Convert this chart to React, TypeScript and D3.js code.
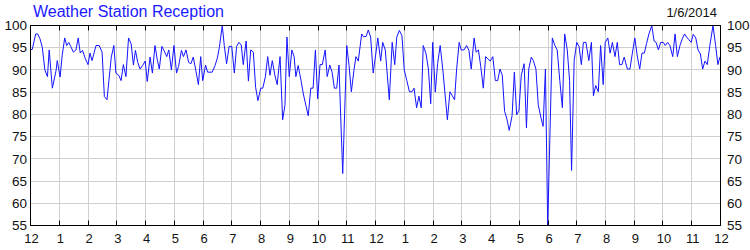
import React from "react";
import * as d3 from "d3";

const title = "Weather Station Reception";
const dateLabel = "1/6/2014";
const monthLabels = ["12","1","2","3","4","5","6","7","8","9","10","11","12","1","2","3","4","5","6","7","8","9","10","11","12"];
const yTicks = [55, 60, 65, 70, 75, 80, 85, 90, 95, 100];

// position in months from the first tick (Dec) and reception %
const monthPos = [
  0.0, 0.06, 0.18, 0.25, 0.33, 0.41, 0.50, 0.59, 0.65, 0.76, 0.89, 0.93, 1.03, 1.10, 1.19, 1.26, 1.33, 1.40, 1.49, 1.58,
  1.66, 1.73, 1.81, 1.91, 2.0, 2.07, 2.14, 2.28, 2.39, 2.49, 2.57, 2.66, 2.81, 2.90, 2.97, 3.07, 3.15, 3.23, 3.32, 3.41,
  3.50, 3.58, 3.65, 3.73, 3.81, 3.90, 3.99, 4.06, 4.16, 4.24, 4.33, 4.41, 4.48, 4.57, 4.64, 4.74, 4.81, 4.90, 4.99, 5.08,
  5.15, 5.25, 5.32, 5.41, 5.50,
  5.58, 5.66, 5.75, 5.84, 5.92, 5.99, 6.09, 6.16, 6.32, 6.42, 6.50, 6.57, 6.67, 6.74, 6.82, 6.91, 7.00, 7.09, 7.17, 7.25,
  7.33, 7.40, 7.50, 7.58, 7.66, 7.75, 7.83, 7.91, 8.01, 8.08, 8.17, 8.25, 8.33, 8.41, 8.50, 8.58, 8.68, 8.77, 8.85, 8.92,
  9.00, 9.09, 9.17, 9.23, 9.31, 9.41, 9.49, 9.58, 9.66, 9.75, 9.83, 9.91, 9.99, 10.07, 10.15, 10.25, 10.32, 10.41, 10.49, 10.57,
  10.65, 10.73, 10.79, 10.86, 11.00, 11.08, 11.16, 11.25, 11.32, 11.40,
  11.52, 11.58, 11.67, 11.75, 11.83, 11.92, 12.01, 12.08, 12.18, 12.25, 12.34, 12.48, 12.58, 12.67, 12.74, 12.83, 12.92, 13.00, 13.09, 13.18,
  13.27, 13.34, 13.43, 13.51, 13.59, 13.66, 13.76, 13.84, 13.92, 13.99, 14.08, 14.16, 14.25, 14.35, 14.50, 14.59, 14.67, 14.75, 14.82, 14.91,
  14.98, 15.08, 15.17, 15.25, 15.33, 15.43, 15.50, 15.58, 15.66, 15.75, 15.83, 15.91, 15.99, 16.08, 16.17, 16.25, 16.33, 16.41, 16.49, 16.57,
  16.65, 16.75, 16.83, 16.91, 16.99, 17.07, 17.17, 17.25, 17.33, 17.42, 17.49, 17.58, 17.66, 17.75, 17.83, 17.91, 17.99,
  18.15, 18.24, 18.32, 18.41, 18.50, 18.58, 18.67, 18.75, 18.82, 18.91, 19.00, 19.08, 19.16, 19.23, 19.32, 19.42, 19.51, 19.58, 19.66, 19.75,
  19.83, 19.92, 19.99, 20.08, 20.16, 20.24, 20.33, 20.41, 20.49, 20.57, 20.65, 20.76, 20.85, 20.93, 21.02, 21.11, 21.19, 21.27, 21.35, 21.43,
  21.51, 21.61, 21.69, 21.76, 21.84, 21.92, 22.01, 22.08, 22.16, 22.24, 22.34, 22.42, 22.50, 22.59, 22.67, 22.75, 22.82, 22.90, 22.98, 23.05,
  23.14, 23.22, 23.30, 23.38, 23.46, 23.54, 23.63, 23.74, 23.83, 23.91, 23.98,
];
const reception = [
  94.6, 94.6, 98.1, 98.1, 97, 95.1, 90, 88.5, 94.5, 85.9, 89.9, 92.1, 88.4, 93.2, 97.2, 95.5, 96.2, 95.3, 94, 94.5,
  97.2, 93.8, 94.4, 92.5, 91.2, 93.8, 92.1, 95.5, 95.5, 94, 84, 83.3, 92.9, 95.5, 89.3, 88.8, 87.6, 91.2, 88.5, 97.2,
  95.9, 91.1, 94.4, 91.7, 90.2, 91, 92, 87.4, 92.9, 89.3, 95.5, 92.3, 90.2, 95.3, 94.4, 93, 94.5, 90, 95.5, 89.3,
  90.8, 94.4, 93, 94.5, 91.7,
  91.4, 92.9, 89.9, 86.7, 93, 87.6, 91.1, 89.5, 89.5, 91, 92.7, 95.1, 100, 95.5, 91.4, 95.3, 95.3, 89.3, 95.3, 96.2,
  95.6, 91.2, 96.5, 87.5, 94.5, 94, 86.1, 83.1, 85.9, 85.9, 88.5, 93, 88.8, 92.1, 88.8, 86.7, 93, 78.8, 82, 97.4,
  88.5, 94.5, 93, 88.5, 91, 87.6, 84.6, 82, 79.7, 85.9, 85.9, 94.5, 83.5, 91.2, 91.2, 94.5, 88.5, 91.1, 89.5, 85.9,
  85.9, 91.1, 79.4, 66.7, 95.5, 91, 85.1, 89.9, 93, 92,
  98.1, 97.5, 97.5, 99, 97.4, 89.3, 93.6, 97.2, 92, 96.2, 94.5, 83.3, 96.2, 91.2, 97.4, 98.9, 97.7, 90, 87.6, 85.1,
  85.1, 85.9, 81.5, 84.1, 81.5, 95.5, 93.6, 90.2, 82.4, 96.2, 85, 91.4, 95.5, 89.5, 78.8, 85.1, 84.2, 83.3, 90, 96.2,
  94.5, 94.5, 95.5, 94.4, 90.2, 97.2, 94, 94.5, 90.8, 85.9, 93, 92.5, 92, 93, 87.6, 87.6, 90.2, 88.8, 80.7, 79,
  76.4, 79.7, 89.5, 79.9, 80.9, 88.8, 91.4, 77, 90.2, 92.9, 92.1, 90.2, 82.2, 79.4, 77.3, 90.2, 55,
  97.2, 95.5, 94.5, 87.6, 81.5, 98.1, 94.5, 87.6, 67.4, 92.1, 96.2, 95.3, 91.2, 96.2, 96.2, 92.1, 96.2, 84.2, 86.5, 85.1,
  95.5, 86.7, 96.2, 97.2, 93.8, 96.2, 93, 96.2, 91.2, 91.2, 92.9, 90.2, 90.2, 93.6, 97.2, 92.9, 90.2, 93.8, 93.8, 96,
  98.1, 100, 96.5, 96.2, 94.5, 96.2, 96.2, 95.5, 96.2, 95.5, 93, 98.1, 93, 95.5, 97, 98.1, 97.4, 96.8, 96.2, 98,
  97.2, 94.5, 93.6, 90.2, 92, 91.2, 95.5, 100, 95.5, 91.2, 92.9,
];

const W = 750;
const H = 250;
const FONT = "'Liberation Sans', Arial, Helvetica, sans-serif";

export default function App() {
  const x = d3.scaleLinear().domain([0, 24]).range([30.5, 720.5]);
  const y = d3.scaleLinear().domain([55, 100]).range([225.5, 25.5]);
  const crisp = (v: number) => Math.round(v - 0.5) + 0.5;

  const pts: [number, number][] = monthPos.map((m, i) => [m, reception[i]]);
  const line = d3
    .line<[number, number]>()
    .x((d) => x(d[0]))
    .y((d) => y(d[1]));

  const months = d3.range(0, 25);
  const left = x(0);
  const right = x(24);
  const top = y(100);
  const bottom = y(55);

  return (
    <svg
      width={W}
      height={H}
      style={{ position: "absolute", left: 0, top: 0, display: "block", background: "#fff" }}
      fontFamily={FONT}
    >
      <rect x={0} y={0} width={W} height={H} fill="#fff" />
      {/* grid */}
      {yTicks.map((v) => (
        <line key={"gy" + v} x1={left} x2={right} y1={crisp(y(v))} y2={crisp(y(v))} stroke="#cfcfcf" strokeWidth={1} />
      ))}
      {months.map((m) => (
        <line key={"gx" + m} x1={crisp(x(m))} x2={crisp(x(m))} y1={top} y2={bottom} stroke="#cfcfcf" strokeWidth={1} />
      ))}
      {/* data line */}
      <path d={line(pts) || ""} fill="none" stroke="#1414ff" strokeWidth={1} strokeLinejoin="round" />
      {/* frame */}
      <rect x={left} y={top} width={right - left} height={bottom - top} fill="none" stroke="#000" strokeWidth={1} />
      {/* ticks */}
      {months.map((m) => (
        <g key={"t" + m}>
          <line x1={crisp(x(m))} x2={crisp(x(m))} y1={top} y2={top + 5} stroke="#000" strokeWidth={1} />
          <line x1={crisp(x(m))} x2={crisp(x(m))} y1={bottom} y2={bottom - 5} stroke="#000" strokeWidth={1} />
        </g>
      ))}
      {/* x labels */}
      {monthLabels.map((lab, i) => (
        <text key={"xl" + i} x={x(i) + 1} y={243} textAnchor="middle" fontSize={13} fill="#111">
          {lab}
        </text>
      ))}
      {/* y labels */}
      {yTicks.map((v) => (
        <g key={"yl" + v}>
          <text x={27} y={y(v)} dy="0.35em" textAnchor="end" fontSize={13.5} fill="#111">
            {v}
          </text>
          <text x={727} y={y(v)} dy="0.35em" textAnchor="start" fontSize={13.5} fill="#111">
            {v}
          </text>
        </g>
      ))}
      {/* title and date */}
      <text x={33} y={17} fontSize={16} fill="#1a1aff">
        {title}
      </text>
      <text x={717} y={17} textAnchor="end" fontSize={13} fill="#111">
        {dateLabel}
      </text>
    </svg>
  );
}
